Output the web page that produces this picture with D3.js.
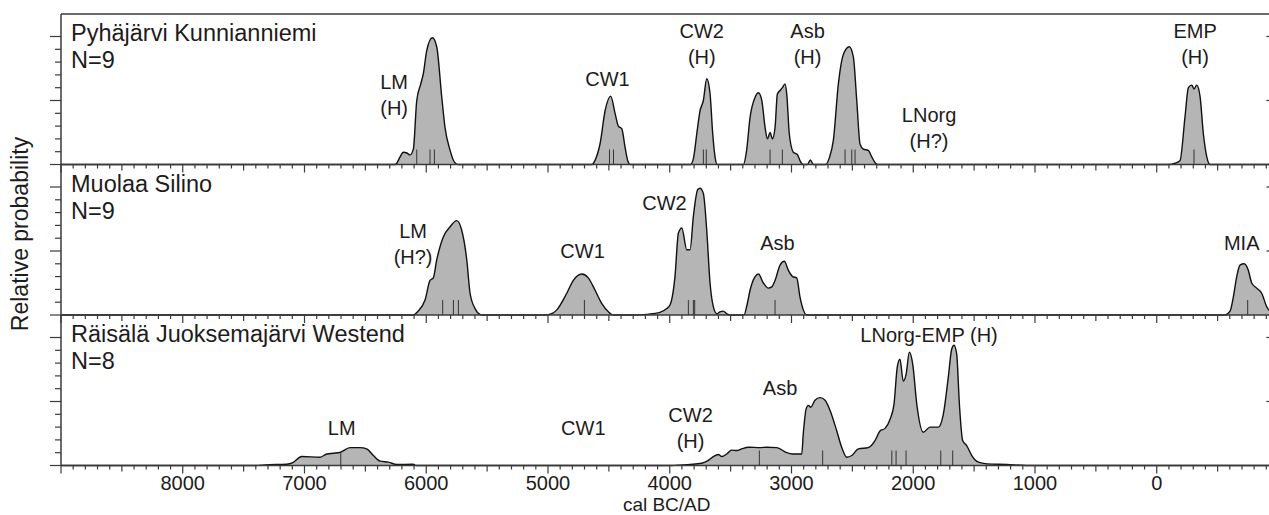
<!doctype html>
<html lang="en">
<head>
    <meta charset="utf-8">
    <title>Relative probability - cal BC/AD</title>
    <script src="https://d3js.org/d3.v7.min.js"></script>
    <style>
        body { margin: 0; background: #fff; }
        svg text {
            font-family: "Liberation Sans", Arial, sans-serif;
            fill: #1e1b1c;
        }
    </style>
</head>
<body>
<svg id="chart" width="1269" height="515"></svg>
<script>
    // Sites (one panel each)
    var siteNames = ["Pyhäjärvi Kunnianniemi", "Muolaa Silino", "Räisälä Juoksemajärvi Westend"];
    var siteN     = [9, 9, 8];

    // Summed probability curves: [cal BC (negative = AD), relative probability]
    var kunnianniemiCurve = [
        [9000,0],[6260,0],[6242,0.01],[6215,0.06],[6188,0.096],[6160,0.09],[6133,0.075],[6106,0.12],[6078,0.5],
        [6045,0.63],[6024,0.71],[5996,0.89],[5950,0.99],[5914,0.92],[5873,0.53],[5846,0.29],[5804,0.11],[5770,0.02],[5740,0],
        [4640,0],[4610,0.04],[4572,0.164],[4531,0.42],[4485,0.534],[4449,0.40],[4422,0.3],[4394,0.28],[4367,0.135],[4345,0.03],[4325,0],
        [3830,0],[3805,0.05],[3778,0.24],[3751,0.42],[3724,0.5],[3696,0.67],[3669,0.555],[3647,0.24],[3628,0.06],[3610,0],
        [3395,0],[3370,0.1],[3340,0.37],[3299,0.525],[3272,0.56],[3244,0.5],[3217,0.29],[3198,0.2],[3176,0.25],[3157,0.2],
        [3135,0.29],[3116,0.55],[3094,0.578],[3075,0.6],[3053,0.63],[3039,0.55],[3018,0.24],[2985,0.096],[2952,0.078],[2930,0.03],[2905,0],
        [2870,0],[2845,0.035],[2820,0],
        [2720,0],[2690,0.05],[2656,0.19],[2615,0.63],[2574,0.86],[2525,0.92],[2492,0.84],[2464,0.5],[2437,0.16],[2410,0.12],
        [2369,0.11],[2341,0.06],[2310,0.01],[2295,0],
        [-100,0],[-150,0.01],[-191,0.03],[-232,0.37],[-260,0.6],[-288,0.62],[-306,0.59],[-329,0.62],[-356,0.53],[-383,0.24],[-411,0.06],[-438,0],
        [-950,0]
    ];
    var silinoCurve = [
        [9000,0],[6106,0],[6067,0.03],[6010,0.117],[5969,0.27],[5942,0.29],[5914,0.43],[5860,0.61],[5804,0.69],[5750,0.737],
        [5708,0.66],[5667,0.43],[5640,0.17],[5599,0.05],[5560,0.005],[5540,0],
        [5030,0],[4960,0.015],[4928,0.04],[4846,0.17],[4792,0.27],[4723,0.32],[4669,0.29],[4614,0.195],[4559,0.09],[4504,0.025],[4460,0],
        [4300,0],[4189,0.005],[4080,0.02],[4025,0.05],[3997,0.08],[3957,0.3],[3929,0.64],[3901,0.68],[3860,0.51],[3833,0.51],
        [3806,0.77],[3770,0.98],[3751,0.99],[3724,0.95],[3696,0.66],[3669,0.25],[3642,0.065],[3614,0.01],[3587,0.025],[3560,0.03],[3532,0.01],[3505,0],
        [3390,0],[3365,0.08],[3340,0.195],[3299,0.3],[3272,0.32],[3231,0.25],[3190,0.21],[3162,0.22],[3135,0.27],[3094,0.39],
        [3059,0.42],[3026,0.35],[2990,0.30],[2957,0.29],[2930,0.14],[2903,0.04],[2875,0],
        [-561,0],[-602,0.03],[-629,0.14],[-657,0.3],[-684,0.39],[-717,0.40],[-752,0.35],[-780,0.25],[-821,0.21],[-862,0.17],[-903,0.065],[-950,0.01]
    ];
    var juoksemajarviCurve = [
        [9000,0],[7400,0],[7324,0.005],[7146,0.01],[7092,0.025],[7023,0.07],[6872,0.065],[6817,0.09],[6763,0.096],[6708,0.103],
        [6626,0.14],[6544,0.14],[6489,0.13],[6434,0.078],[6379,0.034],[6311,0.026],[6242,0.008],[6108,0.01],[6084,0],
        [3990,0],[3942,0.002],[3833,0.008],[3737,0.018],[3683,0.04],[3642,0.07],[3601,0.086],[3573,0.07],[3532,0.09],[3491,0.12],
        [3450,0.117],[3409,0.13],[3354,0.143],[3258,0.14],[3203,0.143],[3121,0.14],[3039,0.10],[2990,0.09],[2916,0.09],[2903,0.25],
        [2880,0.44],[2862,0.47],[2842,0.455],[2807,0.51],[2765,0.53],[2724,0.51],[2683,0.43],[2628,0.27],[2587,0.14],[2546,0.065],
        [2505,0.078],[2451,0.13],[2369,0.14],[2314,0.195],[2273,0.27],[2232,0.29],[2191,0.36],[2158,0.48],[2131,0.77],[2109,0.83],
        [2082,0.66],[2059,0.71],[2032,0.885],[2004,0.79],[1971,0.48],[1917,0.26],[1862,0.30],[1794,0.30],[1753,0.40],[1712,0.69],
        [1684,0.91],[1665,0.94],[1643,0.87],[1621,0.48],[1594,0.195],[1561,0.156],[1519,0.078],[1465,0.026],[1396,0.013],[1232,0.008],[1068,0],
        [-950,0]
    ];

    // Median dates of the individual samples (short marks under the curve)
    var kunnianniemiMedians  = [6078, 5969, 5933, 4495, 4462, 3724, 3700, 3176, 3075, 2560, 2505, 2478, -306];
    var silinoMedians        = [5865, 5777, 5736, 4701, 3847, 3806, 3795, 3135, -747];
    var juoksemajarviMedians = [6702, 3264, 2744, 2176, 2141, 2059, 1774, 1676];

    // Period labels: text lines, year and probability level of the first line
    var kunnianniemiLabels = [
        [["LM", "(H)"], 6264, 0.59], [["CW1"], 4511, 0.613], [["CW2", "(H)"], 3737, 0.986],
        [["Asb", "(H)"], 2868, 0.986], [["LNorg", "(H?)"], 1870, 0.334], [["EMP", "(H)"], -315, 0.986]
    ];
    var silinoLabels = [
        [["LM", "(H?)"], 6108, 0.60], [["CW1"], 4716, 0.445], [["CW2"], 4043, 0.82],
        [["Asb"], 3115, 0.508], [["MIA"], -698, 0.508]
    ];
    var juoksemajarviLabels = [
        [["LM"], 6694, 0.238], [["CW1"], 4710, 0.238], [["CW2", "(H)"], 3829, 0.342],
        [["Asb"], 3094, 0.55], [["LNorg-EMP (H)"], 1870, 0.965]
    ];

    var xTickLabels = [8000, 7000, 6000, 5000, 4000, 3000, 2000, 1000, 0];

    // Layout
    var plotLeft = 61, plotRight = 1272.4, plotTop = 14, panelH = 150.5, unitPx = 128;
    var axisColor = "#3a3a3a";

    var svg = d3.select("#chart");
    var x = d3.scaleLinear().domain([9000, -950]).range([plotLeft, plotRight]);

    var panels = [
        { name: siteNames[0], n: siteN[0], curve: kunnianniemiCurve,  medians: kunnianniemiMedians,  labels: kunnianniemiLabels },
        { name: siteNames[1], n: siteN[1], curve: silinoCurve,        medians: silinoMedians,        labels: silinoLabels },
        { name: siteNames[2], n: siteN[2], curve: juoksemajarviCurve, medians: juoksemajarviMedians, labels: juoksemajarviLabels }
    ];

    var xTicks = d3.range(9000, -951, -100);
    var yTicks = d3.range(0, 11).map(function(i) { return i / 10; });

    panels.forEach(function(p, i)
    {
        var pTop = plotTop + i * panelH;
        var base = pTop + panelH;
        var y = d3.scaleLinear().domain([0, 1]).range([base, base - unitPx]);
        var g = svg.append("g");

        var area = d3.area()
            .curve(d3.curveMonotoneX)
            .x(function(d) { return x(d[0]); })
            .y0(base)
            .y1(function(d) { return y(d[1]); });
        var line = d3.line()
            .curve(d3.curveMonotoneX)
            .x(function(d) { return x(d[0]); })
            .y(function(d) { return y(d[1]); });

        // Clip for the median marks so they stay inside the curve
        svg.append("clipPath").attr("id", "clip" + i)
            .append("path").attr("d", area(p.curve));

        g.append("path")
            .attr("d", area(p.curve))
            .attr("fill", "#b5b5b5");

        g.append("g").attr("clip-path", "url(#clip" + i + ")")
            .selectAll("line")
            .data(p.medians)
            .enter()
            .append("line")
            .attr("x1", function(d) { return x(d); })
            .attr("x2", function(d) { return x(d); })
            .attr("y1", base)
            .attr("y2", base - 15)
            .attr("stroke", "#333")
            .attr("stroke-width", 1);

        g.append("path")
            .attr("d", line(p.curve))
            .attr("fill", "none")
            .attr("stroke", "#111")
            .attr("stroke-width", 1.4);

        // Baseline with x ticks
        g.append("line")
            .attr("x1", plotLeft).attr("x2", plotRight)
            .attr("y1", base).attr("y2", base)
            .attr("stroke", axisColor).attr("stroke-width", 1.5);

        g.selectAll(".xt")
            .data(xTicks)
            .enter()
            .append("line")
            .attr("x1", function(d) { return x(d); })
            .attr("x2", function(d) { return x(d); })
            .attr("y1", base)
            .attr("y2", function(d) { return base + (d % 1000 === 0 ? 8 : (d % 500 === 0 ? 6 : 4)); })
            .attr("stroke", axisColor).attr("stroke-width", 1.2);

        // Left y ticks
        g.selectAll(".yt")
            .data(yTicks)
            .enter()
            .append("line")
            .attr("x1", function(d, j) { return plotLeft - (j % 5 === 0 ? 11 : 6); })
            .attr("x2", plotLeft)
            .attr("y1", function(d) { return y(d); })
            .attr("y2", function(d) { return y(d); })
            .attr("stroke", axisColor).attr("stroke-width", 1.2);

        // Right y ticks (major only)
        g.selectAll(".yr")
            .data([0.5, 1])
            .enter()
            .append("line")
            .attr("x1", plotRight - 6)
            .attr("x2", plotRight)
            .attr("y1", function(d) { return y(d); })
            .attr("y2", function(d) { return y(d); })
            .attr("stroke", axisColor).attr("stroke-width", 1.2);

        // Site name and sample count
        g.append("text")
            .attr("x", plotLeft + 10)
            .attr("y", pTop + 27)
            .style("font-size", "23.5px")
            .text(p.name);
        g.append("text")
            .attr("x", plotLeft + 10)
            .attr("y", pTop + 54)
            .style("font-size", "23.5px")
            .text("N=" + p.n);

        // Period labels
        p.labels.forEach(function(lab)
        {
            var t = g.append("text")
                .attr("text-anchor", "middle")
                .style("font-size", "20px");
            lab[0].forEach(function(s, k)
            {
                t.append("tspan")
                    .attr("x", x(lab[1]))
                    .attr("y", y(lab[2]) + k * 26)
                    .text(s);
            });
        });
    });

    var plotBottom = plotTop + 3 * panelH;

    // Frame: top border and left axis
    svg.append("line")
        .attr("x1", plotLeft).attr("x2", plotRight)
        .attr("y1", plotTop).attr("y2", plotTop)
        .attr("stroke", axisColor).attr("stroke-width", 1.5);
    svg.append("line")
        .attr("x1", plotLeft).attr("x2", plotLeft)
        .attr("y1", plotTop).attr("y2", plotBottom)
        .attr("stroke", axisColor).attr("stroke-width", 1.5);

    // X tick labels
    svg.selectAll(".xl")
        .data(xTickLabels)
        .enter()
        .append("text")
        .attr("x", function(d) { return x(d); })
        .attr("y", plotBottom + 24)
        .attr("text-anchor", "middle")
        .style("font-size", "20px")
        .text(function(d) { return d; });

    // Axis titles
    svg.append("text")
        .attr("x", (plotLeft + plotRight) / 2)
        .attr("y", plotBottom + 45.5)
        .attr("text-anchor", "middle")
        .style("font-size", "19px")
        .text("cal BC/AD");

    svg.append("text")
        .attr("transform", "translate(28,234) rotate(-90)")
        .attr("text-anchor", "middle")
        .style("font-size", "23px")
        .text("Relative probability");
</script>
</body>
</html>
